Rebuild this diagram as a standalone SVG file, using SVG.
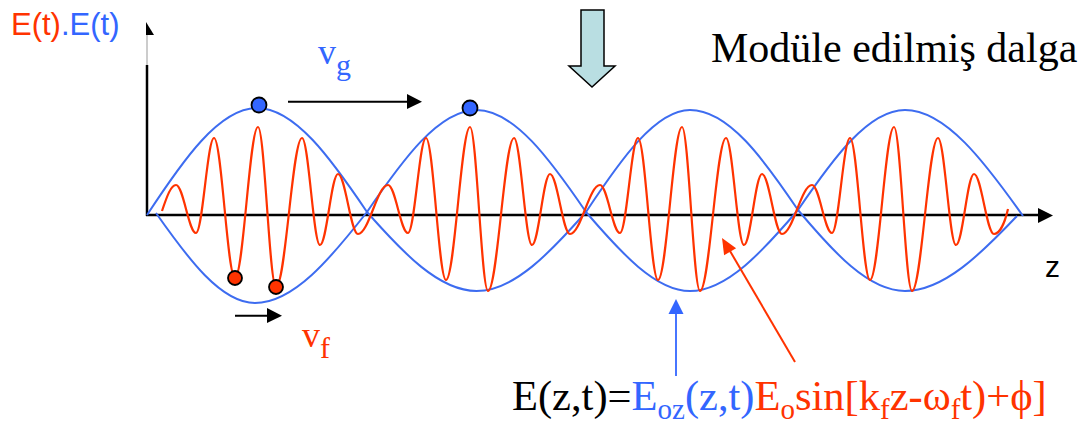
<svg xmlns="http://www.w3.org/2000/svg" width="1084" height="424" viewBox="0 0 1084 424">
<style>
.sans{font-family:"Liberation Sans",Arial,sans-serif}
.serif{font-family:"Liberation Serif","Times New Roman",serif}
.red{fill:#FF3300}
.blue{fill:#3366FF}
.blk{fill:#000}
.env{fill:none;stroke:#3D6CF0;stroke-width:2}
.car{fill:none;stroke:#FF3300;stroke-width:2.2}
.ax{stroke:#000;stroke-width:2.5;fill:none}
</style>
<rect width="1084" height="424" fill="#fff"/>
<g id="axes">
<line x1="147" y1="65" x2="147" y2="216" class="ax" stroke-width="2"/>
<line x1="147" y1="35" x2="147" y2="65" stroke="#999" stroke-width="1"/>
<polygon points="146,22 154,35 146,35" fill="#000"/>
<line x1="146" y1="215" x2="1040" y2="215" class="ax"/>
<polygon points="1038,208 1053,215.5 1038,223" fill="#000"/>
<text x="1045" y="277" class="sans blk" font-size="30">z</text>
<text x="11" y="35" class="sans" font-size="31"><tspan class="red">E(t)</tspan><tspan class="blue">.E(t)</tspan></text>
</g>
<g id="envelope">
<path class="env" d="M147,215 C182.9,160.2 219.2,108 257,108 C294.8,108 331.1,158.8 367,212 C402.7,252.4 438.8,291 476.5,291 C514.2,291 550.3,252.4 586,212 C620.6,159.8 655.5,110 690,110 C728.5,110 763.4,158.8 798,210 C832.9,251.5 868.2,291 905,291 C943.5,291 980.5,254.4 1017,216"/>
<path class="env" d="M156,213 C188.3,259 221,303 255,303 C293.5,303 330.5,258.6 367,212 C402.7,159.8 438.8,110 476.5,110 C514.2,110 550.3,159.8 586,212 C620.6,252.4 655.5,291 690,291 C727,291 763.4,250.5 798,210 C832.9,158.8 868.2,110 905,110 C945.6,110 984.5,161.7 1023,216"/>
</g>
<g id="carrier">
<path class="car" d="M162,211 C167,196 171,185 176,185 C183.3,185 188.7,233 196,233 C202.6,233 207.4,138 214,138 C221.6,138 227.4,278 235,278 C243.4,278 249.6,127 258,127 C264.6,127 269.4,287 276,287 C285.5,287 292.5,138 302,138 C308.6,138 313.4,245 320,245 C326.6,245 331.4,174 338,174 C345.3,174 350.7,234 358,234 C368.9,234 377.1,185 388,185 C395.3,185 400.7,233 408,233 C414.6,233 419.4,138 426,138 C433.3,138 438.7,280 446,280 C454.7,280 461.3,127 470,127 C476.6,127 481.4,291 488,291 C497.5,291 504.5,138 514,138 C520.6,138 525.4,245 532,245 C538.6,245 543.4,174 550,174 C557.3,174 562.7,234 570,234 C580.9,234 589.1,185 600,185 C607.3,185 612.7,233 620,233 C626.6,233 631.4,138 638,138 C645.3,138 650.7,280 658,280 C666.7,280 673.3,127 682,127 C688.6,127 693.4,291 700,291 C709.5,291 716.5,138 726,138 C732.6,138 737.4,245 744,245 C750.6,245 755.4,174 762,174 C769.3,174 774.7,234 782,234 C792.9,234 801.1,185 812,185 C819.3,185 824.7,233 832,233 C838.6,233 843.4,138 850,138 C857.3,138 862.7,280 870,280 C878.7,280 885.3,127 894,127 C900.6,127 905.4,291 912,291 C921.5,291 928.5,138 938,138 C944.6,138 949.4,245 956,245 C962.6,245 967.4,174 974,174 C981.3,174 986.7,234 994,234 C1000,234 1005,222 1008,209"/>
</g>
<g id="dots">
<circle cx="259" cy="105" r="7.5" fill="#3366FF" stroke="#000" stroke-width="1.8"/>
<circle cx="470" cy="108" r="7.5" fill="#3366FF" stroke="#000" stroke-width="1.8"/>
<circle cx="235" cy="278" r="7" fill="#FF3300" stroke="#000" stroke-width="1.8"/>
<circle cx="276" cy="287" r="7" fill="#FF3300" stroke="#000" stroke-width="1.8"/>
</g>
<g id="connectors">
<line x1="288" y1="101.7" x2="408" y2="101.7" stroke="#000" stroke-width="2"/>
<polygon points="407,94 422,101.7 407,109" fill="#000"/>
<line x1="235" y1="315.7" x2="268" y2="315.7" stroke="#000" stroke-width="2"/>
<polygon points="267,308 282,315.7 267,323" fill="#000"/>
<line x1="676" y1="313" x2="676" y2="376" stroke="#3366FF" stroke-width="1.8"/>
<polygon points="676,299 683.5,314 668.5,314" fill="#3366FF"/>
<line x1="730" y1="251" x2="795" y2="362" stroke="#FF3300" stroke-width="2"/>
<polygon points="722,238 736.1,248.3 724.1,255.3" fill="#FF3300"/>
</g>
<g id="down-arrow">
<polygon points="581,10 604,10 604,66 615,66 592,87 569,66 581,66" fill="#B9DEE2" stroke="#000" stroke-width="1.5" stroke-linejoin="miter"/>
</g>
<g id="labels">
<text x="711" y="62" class="serif blk" font-size="42">Modüle edilmiş dalga</text>
<text x="318" y="64" class="serif blue" font-size="36">v<tspan font-size="30" dy="11">g</tspan></text>
<text x="302" y="347" class="serif red" font-size="36">v<tspan font-size="30" dy="11">f</tspan></text>
<text x="512" y="410" class="serif" font-size="42.5"><tspan class="blk">E(z,t)=</tspan><tspan class="blue">E</tspan><tspan class="blue" font-size="29" dy="9">oz</tspan><tspan class="blue" dy="-9">(z,t)</tspan><tspan class="red">E</tspan><tspan class="red" font-size="29" dy="9">o</tspan><tspan class="red" dy="-9">sin[k</tspan><tspan class="red" font-size="29" dy="9">f</tspan><tspan class="red" dy="-9">z-ω</tspan><tspan class="red" font-size="29" dy="9">f</tspan><tspan class="red" dy="-9">t)+ϕ]</tspan></text>
</g>
</svg>
